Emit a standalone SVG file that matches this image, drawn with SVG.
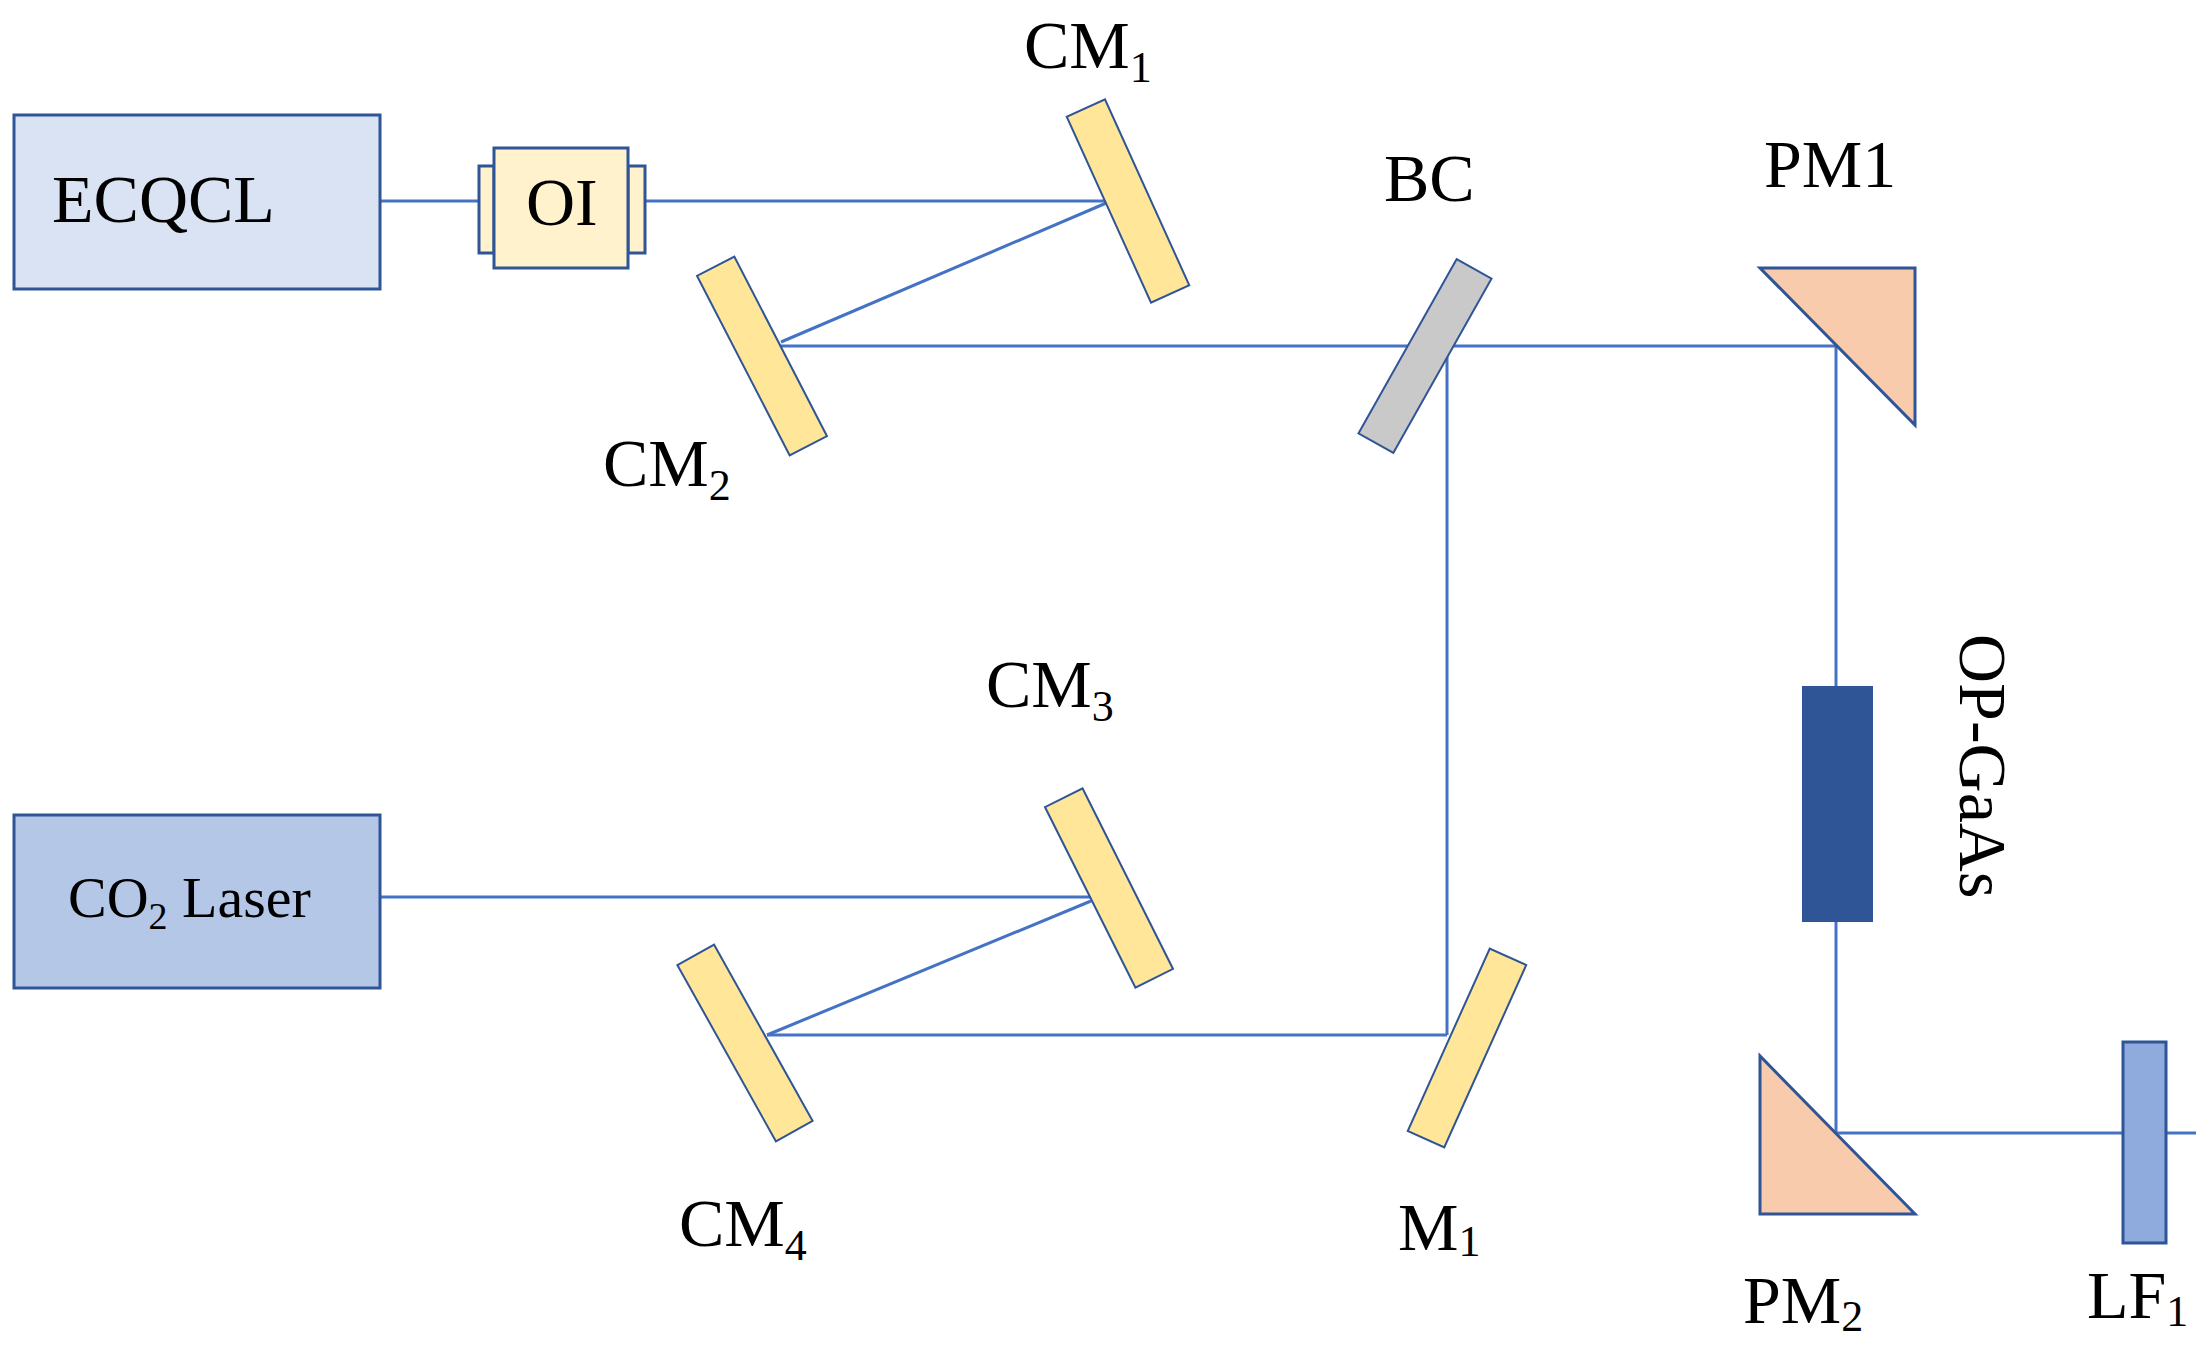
<svg xmlns="http://www.w3.org/2000/svg" width="2208" height="1359" viewBox="0 0 2208 1359">
<style>
text{font-family:"Liberation Serif",serif;font-size:68px;fill:#000}
.s{font-size:44px}
.beam{stroke:#4472c4;stroke-width:3;fill:none}
.cm{fill:#ffe699;stroke:#2f5597;stroke-width:2}
.pm{fill:#f8cbad;stroke:#2f5597;stroke-width:3}
</style>
<rect width="2208" height="1359" fill="#fff"/>
<g id="connectors">
<line class="beam" x1="380" y1="201" x2="479" y2="201"/>
<line class="beam" x1="645" y1="201" x2="1111" y2="201"/>
<line class="beam" x1="1111" y1="201" x2="781" y2="342"/>
<line class="beam" x1="781" y1="346" x2="1836" y2="346"/>
<line class="beam" x1="1447" y1="346" x2="1447" y2="1035"/>
<line class="beam" x1="767" y1="1035" x2="1447" y2="1035"/>
<line class="beam" x1="380" y1="897" x2="1091" y2="897"/>
<line class="beam" x1="1091" y1="901" x2="767" y2="1035"/>
<line class="beam" x1="1836" y1="346" x2="1836" y2="1133"/>
<line class="beam" x1="1836" y1="1133" x2="2196" y2="1133"/>
</g>
<g id="ECQCL"><rect x="14" y="115" width="366" height="174" fill="#dae3f3" stroke="#2f5597" stroke-width="3"/><text x="52" y="222">ECQCL</text></g>
<g id="OI"><rect x="479" y="166" width="15" height="87" fill="#fff2cc" stroke="#2f5597" stroke-width="3"/><rect x="628" y="166" width="17" height="87" fill="#fff2cc" stroke="#2f5597" stroke-width="3"/><rect x="494" y="148" width="134" height="120" fill="#fff2cc" stroke="#2f5597" stroke-width="3"/><text x="526" y="225">OI</text></g>
<g id="CM1"><rect class="cm" x="-21" y="-102" width="42" height="204" transform="translate(1128,201) rotate(-24.4)"/><text x="1024" y="68">CM<tspan class="s" dy="14">1</tspan></text></g>
<g id="CM2"><rect class="cm" x="-21" y="-101" width="42" height="202" transform="translate(762,356) rotate(-27.3)"/><text x="603" y="486">CM<tspan class="s" dy="14">2</tspan></text></g>
<g id="BC"><rect x="-20" y="-100" width="40" height="200" fill="#c9c9c9" stroke="#2f5597" stroke-width="2" transform="translate(1425,356) rotate(29.4)"/><text x="1384" y="201">BC</text></g>
<g id="PM1"><polygon class="pm" points="1760,268 1915,268 1915,425"/><text x="1764" y="187">PM1</text></g>
<g id="CO2"><rect x="14" y="815" width="366" height="173" fill="#b4c7e7" stroke="#2f5597" stroke-width="3"/><text x="68" y="917" style="font-size:58px">CO<tspan class="s" style="font-size:38px" dy="12">2</tspan><tspan dy="-12"> Laser</tspan></text></g>
<g id="CM3"><rect class="cm" x="-21" y="-101" width="42" height="202" transform="translate(1109,888) rotate(-26.6)"/><text x="986" y="707">CM<tspan class="s" dy="14">3</tspan></text></g>
<g id="CM4"><rect class="cm" x="-21" y="-101" width="42" height="202" transform="translate(745,1043) rotate(-29.2)"/><text x="679" y="1246">CM<tspan class="s" dy="14">4</tspan></text></g>
<g id="M1"><rect class="cm" x="-20" y="-100" width="40" height="200" transform="translate(1467,1048) rotate(24.2)"/><text x="1398" y="1250">M<tspan class="s" dy="6">1</tspan></text></g>
<g id="OPGaAs"><rect x="1802" y="686" width="71" height="236" fill="#2f5597"/><text transform="translate(1960,634) rotate(90)">OP-GaAs</text></g>
<g id="PM2"><polygon class="pm" points="1760,1056 1760,1214 1915,1214"/><text x="1743" y="1323">PM<tspan class="s" dy="8">2</tspan></text></g>
<g id="LF1"><rect x="2123" y="1042" width="43" height="201" fill="#8faadc" stroke="#2f5597" stroke-width="3"/><text x="2087" y="1318">LF<tspan class="s" dy="8">1</tspan></text></g>
</svg>
